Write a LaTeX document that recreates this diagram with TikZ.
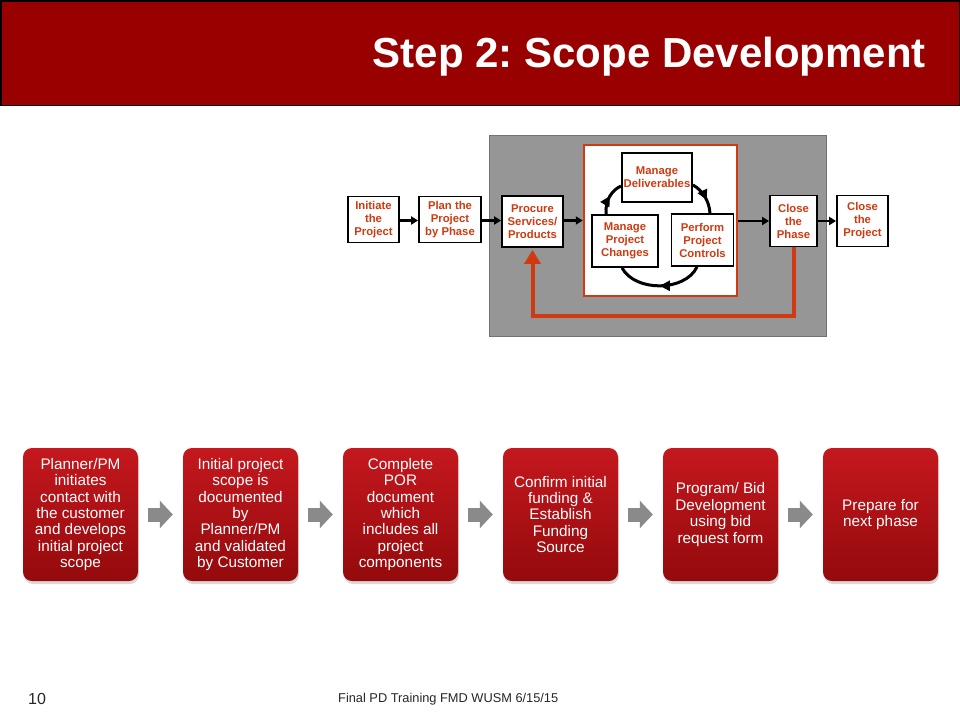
\documentclass[tikz,border=0pt]{standalone}
\usepackage{fontspec}
\setmainfont{Liberation Sans}
\usetikzlibrary{arrows.meta,shadows,decorations.markings,calc}
\definecolor{hdrred}{RGB}{153,0,0}
\definecolor{ored}{RGB}{208,58,16}
\definecolor{panelgray}{RGB}{150,150,150}
\definecolor{boxtop}{RGB}{196,24,30}
\definecolor{boxbot}{RGB}{148,10,12}
\definecolor{arrgray}{RGB}{138,138,138}
\frenchspacing
\begin{document}
\begin{tikzpicture}[x=1pt,y=-1pt,
 tbox/.style={draw=black,line width=1.8pt,fill=white,text=ored,font=\bfseries\fontsize{11.3}{13}\selectfont,align=center,inner sep=0pt},
 flowar/.style={line width=2.6pt,-{Triangle[length=7pt,width=8pt]}},
 cycar/.style={line width=3pt,postaction={decorate},decoration={markings,mark=at position #1 with {\arrow{Triangle[length=10pt,width=10pt]}}}},
 redbox/.style={rounded corners=9pt,top color=boxtop,bottom color=boxbot,text=white,minimum width=115pt,minimum height=133pt,align=center,font=\fontsize{15.3}{16.4}\selectfont,inner sep=0pt,drop shadow={opacity=0.3,shadow xshift=1pt,shadow yshift=-3pt}},
 garrow/.style={line width=14pt,arrgray,-{Triangle[length=13pt,width=27pt]},shorten <=10pt,shorten >=10pt}]
\useasboundingbox (0,0) rectangle (960,720);
% header
\fill[hdrred] (0,0) rectangle (960,106);
\draw[black,line width=1.5pt] (0.75,0.75) rectangle (959.25,105.5);
\node[anchor=base east,text=white,font=\bfseries\fontsize{42}{50}\selectfont,inner sep=0pt] (title) at (926,67) {Step 2: Scope Development};
% top process diagram
\node[fill=panelgray,draw=black!55,line width=0.8pt,minimum width=337pt,minimum height=201pt,inner sep=0pt] (panel) at (657.5,235.5) {};
\node[draw=ored,line width=2.5pt,fill=white,minimum width=153pt,minimum height=151pt,inner sep=0pt] (cyc) at (660.5,220.5) {};
\node[tbox,minimum width=51pt,minimum height=46pt] (init) at (373.5,219.5) {Initiate\\the\\Project};
\node[tbox,minimum width=62pt,minimum height=46pt] (plan) at (450,219.5) {Plan the\\Project\\by Phase};
\node[tbox,minimum width=61pt,minimum height=51pt] (proc) at (532.5,221.5) {Procure\\Services/\\Products};
\node[tbox,minimum width=70pt,minimum height=49pt] (deliv) at (657,177.5) {Manage\\Deliverables};
\node[tbox,minimum width=66pt,minimum height=52pt] (chg) at (625,241) {Manage\\Project\\Changes};
\node[tbox,minimum width=62pt,minimum height=52pt] (ctrl) at (702.5,240) {Perform\\Project\\Controls};
\node[tbox,minimum width=47pt,minimum height=51pt] (cphase) at (793.5,221) {Close\\the\\Phase};
\node[tbox,minimum width=51pt,minimum height=51pt] (cproj) at (862.5,221) {Close\\the\\Project};
\draw[flowar] (init.east |- 0,220.5) -- (plan.west |- 0,220.5);
\draw[flowar] (plan.east |- 0,220.5) -- (proc.west |- 0,220.5);
\draw[flowar] (proc.east |- 0,220.5) -- (cyc.west |- 0,220.5);
\draw[flowar] (cyc.east |- 0,221) -- (cphase.west |- 0,221);
\draw[flowar] (cphase.east) -- (cproj.west);
% cycle
\draw[cycar=0.55] (chg.north -| 606,0) .. controls (605,200) and (612,190) .. (deliv.west |- 0,186);
\draw[cycar=0.6] (deliv.east |- 0,185) .. controls (702,190) and (709,200) .. (ctrl.north -| 710,0);
\draw[cycar=0.5] (ctrl.south -| 697,0) .. controls (685,292) and (635,292) .. (chg.south -| 622,0);
% feedback
\draw[ored,line width=4pt,-{Triangle[length=14pt,width=16pt]},shorten >=2pt] (cphase.south) -- (cphase.south |- 0,316) -| (proc.south);
% bottom row
\node[redbox] (b1) at (80.5,514.5) {Planner/PM\\initiates\\contact with\\the customer\\and develops\\initial project\\scope};
\node[redbox] (b2) at (240.5,514.5) {Initial project\\scope is\\documented\\by\\Planner/PM\\and validated\\by Customer};
\node[redbox] (b3) at (400.5,514.5) {Complete\\POR\\document\\which\\includes all\\project\\components};
\node[redbox] (b4) at (560.5,514.5) {Confirm initial\\funding \&\\Establish\\Funding\\Source};
\node[redbox] (b5) at (720.5,514.5) {Program/ Bid\\Development\\using bid\\request form};
\node[redbox] (b6) at (880.5,514.5) {Prepare for\\next phase};
\draw[garrow] (b1) -- (b2);
\draw[garrow] (b2) -- (b3);
\draw[garrow] (b3) -- (b4);
\draw[garrow] (b4) -- (b5);
\draw[garrow] (b5) -- (b6);
% footer
\node[anchor=base west,font=\fontsize{16}{19}\selectfont,text=black!85,inner sep=0pt] (pnum) at (28,704) {10};
\node[anchor=base west,font=\fontsize{12.8}{15}\selectfont,text=black!85,inner sep=0pt] (foot) at (338,702) {Final PD Training FMD WUSM 6/15/15};
\end{tikzpicture}
\end{document}
